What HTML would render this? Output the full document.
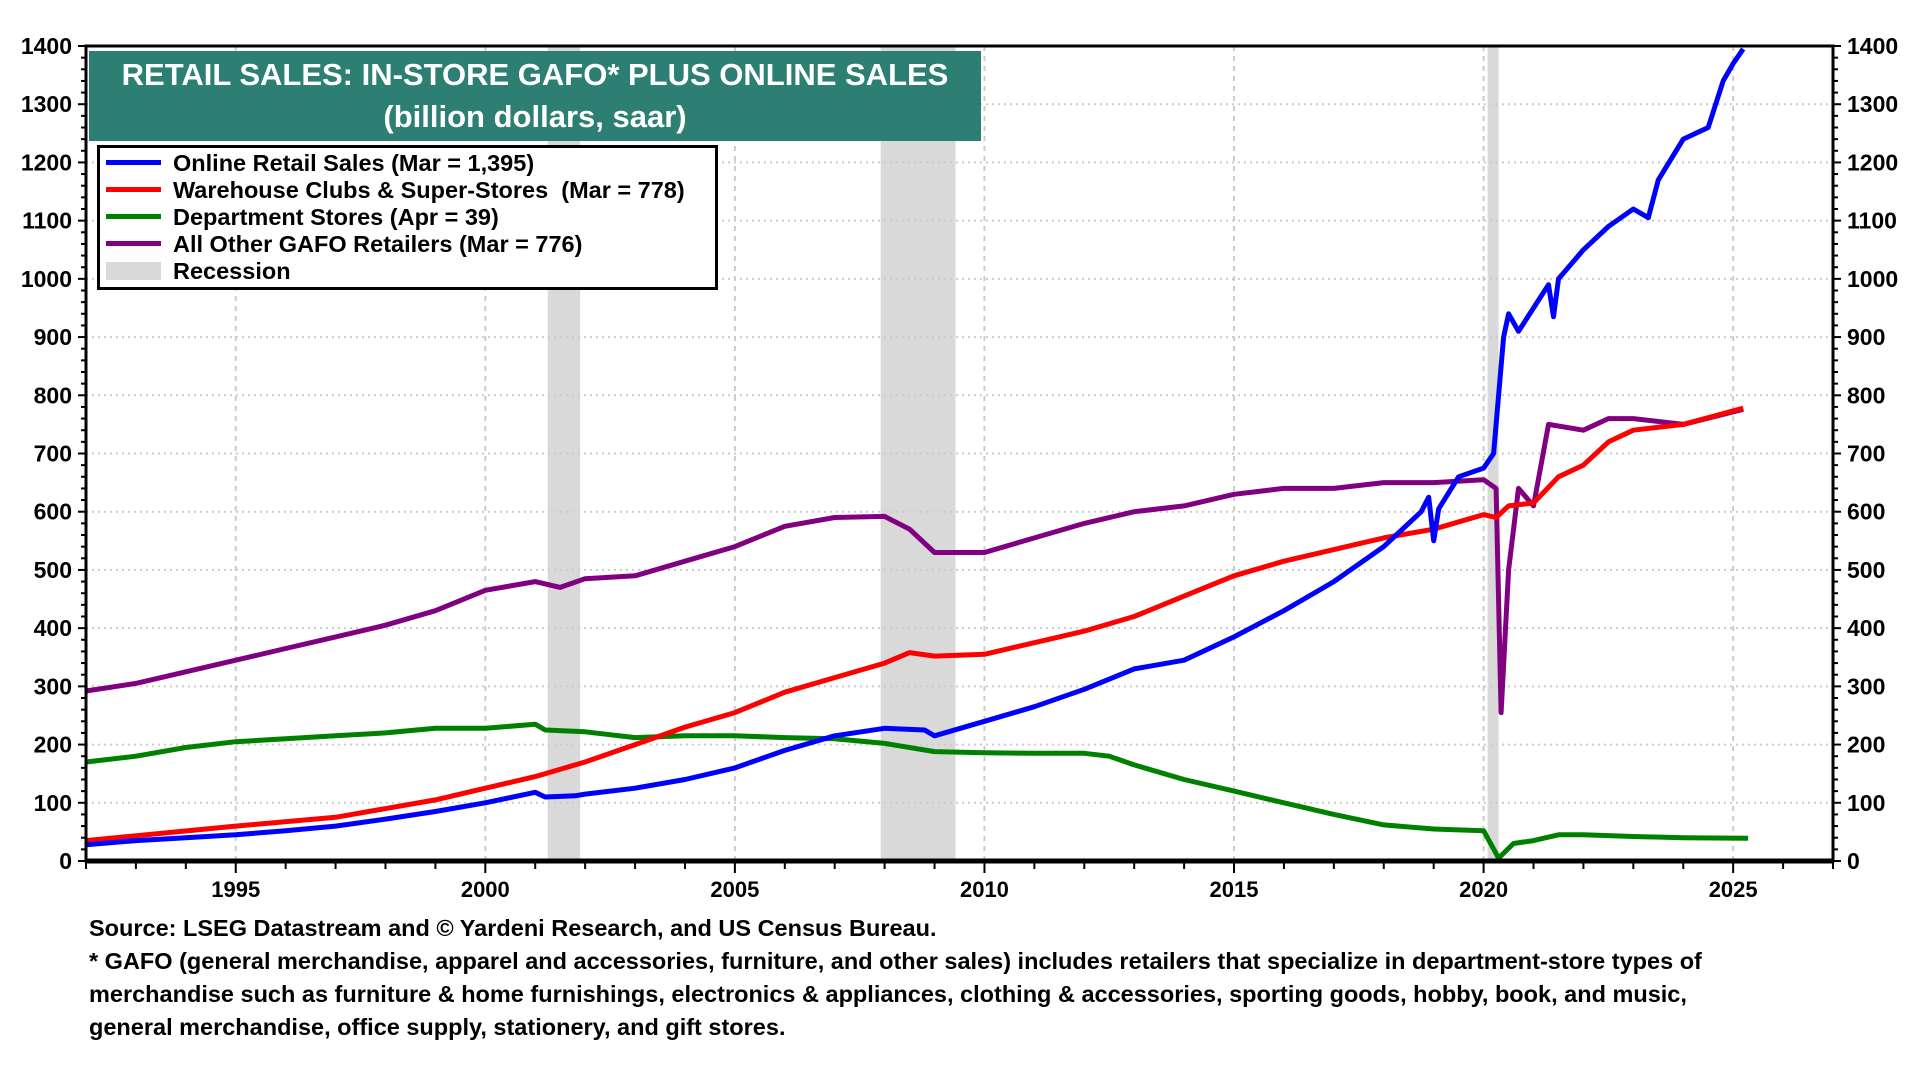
<!DOCTYPE html>
<html><head><meta charset="utf-8"><style>
html,body{margin:0;padding:0;background:#fff;}
body{width:1920px;height:1080px;overflow:hidden;font-family:"Liberation Sans",Arial,sans-serif;}
</style></head><body>
<svg id="chart" width="1920" height="1080" xmlns="http://www.w3.org/2000/svg" font-family="Liberation Sans, Arial, sans-serif"></svg>
<script>
const yearTicks=[1995,2000,2005,2010,2015,2020,2025];
const valueTicks=[0,100,200,300,400,500,600,700,800,900,1000,1100,1200,1300,1400];
const recessions=[[2001.25,2001.9],[2007.92,2009.42],[2020.08,2020.3]];
const onlineX=[1992,1993,1994,1995,1996,1997,1998,1999,2000,2001,2001.2,2001.8,2002,2003,2004,2005,2006,2007,2008,2008.8,2009,2010,2011,2012,2013,2014,2015,2016,2017,2018,2018.75,2018.9,2019.0,2019.1,2019.5,2020.0,2020.2,2020.4,2020.5,2020.7,2021,2021.3,2021.4,2021.5,2022,2022.5,2023,2023.3,2023.5,2024,2024.5,2024.8,2025,2025.2];
const onlineY=[28,35,40,45,52,60,72,85,100,118,110,112,115,125,140,160,190,215,228,225,215,240,265,295,330,345,385,430,480,540,600,625,550,605,660,675,700,900,940,910,950,990,935,1000,1050,1090,1120,1105,1170,1240,1260,1340,1370,1395];
const wareX=[1992,1995,1997,1999,2000,2001,2002,2003,2004,2005,2006,2007,2008,2008.5,2009,2010,2011,2012,2013,2014,2015,2016,2017,2018,2019,2020,2020.25,2020.5,2021,2021.5,2022,2022.5,2023,2024,2025.2];
const wareY=[35,60,75,105,125,145,170,200,230,255,290,315,340,358,352,355,375,395,420,455,490,515,535,555,570,595,590,610,615,660,680,720,740,750,778];
const deptX=[1992,1993,1994,1995,1996,1997,1998,1999,2000,2001,2001.2,2002,2003,2004,2005,2006,2007,2008,2009,2010,2011,2012,2012.5,2013,2014,2015,2016,2017,2018,2019,2020,2020.3,2020.6,2021,2021.5,2022,2023,2024,2025.3];
const deptY=[170,180,195,205,210,215,220,228,228,235,225,222,212,215,215,212,210,202,188,186,185,185,180,165,140,120,100,80,62,55,52,5,30,35,45,45,42,40,39];
const otherX=[1992,1993,1994,1995,1996,1997,1998,1999,2000,2001,2001.5,2002,2003,2004,2005,2006,2007,2008,2008.5,2009,2010,2011,2012,2013,2014,2015,2016,2017,2018,2019,2020,2020.25,2020.35,2020.5,2020.7,2021,2021.3,2022,2022.5,2023,2024,2025.2];
const otherY=[292,305,325,345,365,385,405,430,465,480,470,485,490,515,540,575,590,592,570,530,530,555,580,600,610,630,640,640,650,650,655,640,255,500,640,610,750,740,760,760,750,776];

const L=86,R=1833,T=46,B=861;
const x0=1992,x1=2027,ymax=1400;
const sx=v=>L+(v-x0)/(x1-x0)*(R-L);
const sy=v=>B-v/ymax*(B-T);
const NS="http://www.w3.org/2000/svg";
const svg=document.getElementById('chart');
function mk(tag,attrs,parent){const e=document.createElementNS(NS,tag);for(const k in attrs)e.setAttribute(k,attrs[k]);(parent||svg).appendChild(e);return e;}

recessions.forEach(r=>{
  const e=mk('rect',{x:sx(r[0]),y:T,width:sx(r[1])-sx(r[0]),height:B-T,fill:'#d9d9d9'});
  
  
});
valueTicks.forEach(v=>{
  if(v>0&&v<ymax){const g=mk('line',{x1:L,x2:R,y1:sy(v),y2:sy(v),stroke:'#cccccc','stroke-width':2,'stroke-dasharray':'2,4'});
  
  }
});
yearTicks.forEach(y=>{
  const g=mk('line',{x1:sx(y),x2:sx(y),y1:T,y2:B,stroke:'#cccccc','stroke-width':2,'stroke-dasharray':'5,5'});
  
  
});
function series(xs,ys,color,name){
  const d=xs.map((x,i)=>(i?'L':'M')+sx(x).toFixed(1)+','+sy(ys[i]).toFixed(1)).join(' ');
  const p=mk('path',{d:d,fill:'none',stroke:color,'stroke-width':5,'stroke-linejoin':'round'});
  
  
}
series(deptX,deptY,'#008000','department-stores-line');
series(otherX,otherY,'#800080','other-gafo-line');
series(wareX,wareY,'#ff0000','warehouse-clubs-line');
series(onlineX,onlineY,'#0000ff','online-sales-line');
const fr=mk('rect',{x:L,y:T,width:R-L,height:B-T,fill:'none',stroke:'#000','stroke-width':3});


const xb=mk('line',{x1:L,x2:R,y1:B,y2:B,stroke:'#000','stroke-width':5});


for(let v=0;v<=ymax;v+=20){
  const major=v%100===0;const len=major?8:5;
  mk('line',{x1:L-len,x2:L,y1:sy(v),y2:sy(v),stroke:'#000','stroke-width':2});
  mk('line',{x1:R,x2:R+len,y1:sy(v),y2:sy(v),stroke:'#000','stroke-width':2});
}
valueTicks.forEach(v=>{
  const t=mk('text',{x:L-14,y:sy(v)+8,'text-anchor':'end','font-size':23,'font-weight':'bold'});t.textContent=v;
  
  
  const t2=mk('text',{x:R+14,y:sy(v)+8,'text-anchor':'start','font-size':23,'font-weight':'bold'});t2.textContent=v;
  
  
});
for(let y=1992;y<=2027;y++){
  const major=y%5===0;
  mk('line',{x1:sx(y),x2:sx(y),y1:B,y2:B+(major?12:8),stroke:'#000','stroke-width':2});
}
yearTicks.forEach(y=>{
  const t=mk('text',{x:sx(y),y:B+36,'text-anchor':'middle','font-size':22,'font-weight':'bold'});t.textContent=y;
  
  
});
</script>
<div style="position:absolute;left:89px;top:51px;width:892px;height:90px;background:#2e7f73;color:#fff;text-align:center;font-weight:bold;font-size:31px;line-height:42px;">
<div style="margin-top:3px">RETAIL SALES: IN-STORE GAFO* PLUS ONLINE SALES</div>
<div>(billion dollars, saar)</div>
</div>
<div style="position:absolute;left:97px;top:145px;width:621px;height:145px;border:3px solid #000;background:#fff;font-weight:bold;font-size:23.5px;line-height:27px;padding-top:2px;box-sizing:border-box;white-space:nowrap;">
<div><span style="display:inline-block;width:55px;height:5px;background:#0000ff;margin:0 12px 5px 6px;vertical-align:middle"></span>Online Retail Sales (Mar = 1,395)</div>
<div><span style="display:inline-block;width:55px;height:5px;background:#ff0000;margin:0 12px 5px 6px;vertical-align:middle"></span>Warehouse Clubs &amp; Super-Stores&nbsp; (Mar = 778)</div>
<div><span style="display:inline-block;width:55px;height:5px;background:#008000;margin:0 12px 5px 6px;vertical-align:middle"></span>Department Stores (Apr = 39)</div>
<div><span style="display:inline-block;width:55px;height:5px;background:#800080;margin:0 12px 5px 6px;vertical-align:middle"></span>All Other GAFO Retailers (Mar = 776)</div>
<div><span style="display:inline-block;width:55px;height:18px;background:#d9d9d9;margin:0 12px 3px 6px;vertical-align:middle"></span>Recession</div>
</div>
<div style="position:absolute;left:89px;top:912px;width:1830px;font-weight:bold;font-size:23.5px;line-height:33px;white-space:nowrap;">
<div>Source: LSEG Datastream and © Yardeni Research, and US Census Bureau.</div>
<div>* GAFO (general merchandise, apparel and accessories, furniture, and other sales) includes retailers that specialize in department-store types of<br>merchandise such as furniture &amp; home furnishings, electronics &amp; appliances, clothing &amp; accessories, sporting goods, hobby, book, and music,<br>general merchandise, office supply, stationery, and gift stores.</div>
</div>
</body></html>
